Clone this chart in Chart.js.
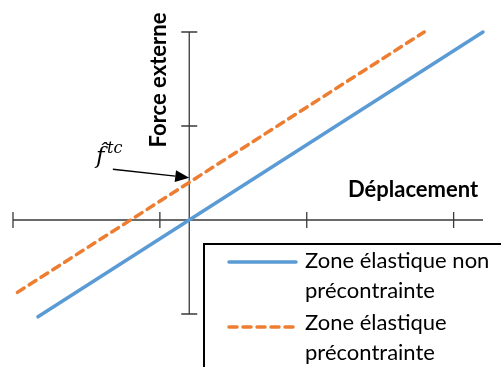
<!DOCTYPE html>
<html>
<head>
<meta charset="utf-8">
<script src="https://cdn.jsdelivr.net/npm/chart.js@4"></script>
<style>
  html, body { margin: 0; padding: 0; background: #fff; }
  #c { display: block; }
</style>
</head>
<body>
<canvas id="c" width="501" height="367"></canvas>
<script>
// values
const xTicks = [-1.2, -0.2, 0.8, 1.8];
const yTicks = [-1, 0, 1, 2];
const blueX = [-1.03, 2.0];
const blueY = [-1.03, 2.0];
const orangeX = [-1.17, 1.6];
const orangeY = [-0.77, 2.0];
const seriesLabels = [['Zone élastique non', 'précontrainte'], ['Zone élastique', 'précontrainte']];
const xTitle = 'Déplacement';
const yTitle = 'Force externe';
const noteMain = 'f\u0302';
const noteSup = 'tc';
const arrowFrom = [-0.52, 0.54];
const arrowTo = [0, 0.45];

const BLUE = '#5B9BD5';
const ORANGE = '#ED7D31';
const AXIS = '#3a3a3a';
const FONT = 'Lato, "Liberation Sans", sans-serif';

function pts(xs, ys) { return xs.map((x, i) => ({ x: x, y: ys[i] })); }

// axes crossing at origin with cross ticks, titles, note and legend
const axesPlugin = {
  id: 'axes',
  beforeDatasetsDraw(chart) {
    const ctx = chart.ctx, xs = chart.scales.x, ys = chart.scales.y;
    const x0 = xs.getPixelForValue(0), y0 = ys.getPixelForValue(0);
    ctx.save();
    ctx.strokeStyle = AXIS;
    ctx.lineWidth = 1.3;
    ctx.beginPath();
    ctx.moveTo(xs.getPixelForValue(xs.min), y0);
    ctx.lineTo(xs.getPixelForValue(xs.max), y0);
    ctx.moveTo(x0, ys.getPixelForValue(ys.min));
    ctx.lineTo(x0, ys.getPixelForValue(ys.max));
    xTicks.forEach(v => {
      const px = xs.getPixelForValue(v);
      ctx.moveTo(px, y0 - 8); ctx.lineTo(px, y0 + 8);
    });
    yTicks.forEach(v => {
      const py = ys.getPixelForValue(v);
      ctx.moveTo(x0 - 8, py); ctx.lineTo(x0 + 8, py);
    });
    ctx.stroke();
    ctx.restore();
  },
  afterDraw(chart) {
    const ctx = chart.ctx, xs = chart.scales.x, ys = chart.scales.y;
    ctx.save();
    // axis titles
    ctx.fillStyle = '#000';
    ctx.font = 'bold 22px ' + FONT;
    ctx.textAlign = 'left';
    ctx.textBaseline = 'alphabetic';
    ctx.fillText(xTitle, 348, 197);
    ctx.save();
    ctx.translate(166, 80);
    ctx.rotate(-Math.PI / 2);
    ctx.textAlign = 'center';
    ctx.fillText(yTitle, 0, 0);
    ctx.restore();

    // annotation arrow
    const ax = xs.getPixelForValue(arrowFrom[0]), ay = ys.getPixelForValue(arrowFrom[1]);
    const bx = xs.getPixelForValue(arrowTo[0]), by = ys.getPixelForValue(arrowTo[1]);
    const ang = Math.atan2(by - ay, bx - ax);
    const hl = 14, hw = 6;
    const sx = bx - hl * Math.cos(ang), sy = by - hl * Math.sin(ang);
    ctx.strokeStyle = '#000';
    ctx.lineWidth = 1.3;
    ctx.beginPath();
    ctx.moveTo(ax, ay); ctx.lineTo(sx, sy);
    ctx.stroke();
    ctx.beginPath();
    ctx.moveTo(bx, by);
    ctx.lineTo(sx + hw * Math.sin(ang), sy - hw * Math.cos(ang));
    ctx.lineTo(sx - hw * Math.sin(ang), sy + hw * Math.cos(ang));
    ctx.closePath();
    ctx.fillStyle = '#000';
    ctx.fill();

    ctx.font = 'italic 23px "DejaVu Serif", serif';
    ctx.textAlign = 'left';
    ctx.fillText(noteMain, 96, 163);
    ctx.font = 'italic 16px "DejaVu Serif", serif';
    ctx.fillText(noteSup, 107, 153);

    // legend box
    ctx.fillStyle = '#fff';
    ctx.fillRect(204, 244, 310, 140);
    ctx.strokeStyle = '#000';
    ctx.lineWidth = 2;
    ctx.strokeRect(204, 244, 310, 140);
    const rows = [262, 327];
    const baselines = [268, 330];
    chart.data.datasets.forEach((ds, i) => {
      ctx.strokeStyle = ds.borderColor;
      ctx.lineWidth = 3.5;
      ctx.lineCap = 'round';
      ctx.setLineDash(ds.borderDash || []);
      ctx.beginPath();
      ctx.moveTo(229, rows[i]); ctx.lineTo(296, rows[i]);
      ctx.stroke();
      ctx.setLineDash([]);
      ctx.fillStyle = '#000';
      ctx.font = '22px ' + FONT;
      ctx.textBaseline = 'alphabetic';
      seriesLabels[i].forEach((t, j) => ctx.fillText(t, 305, baselines[i] + j * 30));
    });
    ctx.restore();
  }
};

new Chart(document.getElementById('c'), {
  type: 'scatter',
  data: {
    datasets: [
      { label: seriesLabels[0].join(' '), data: pts(blueX, blueY), showLine: true,
        borderColor: BLUE, borderWidth: 3.5, pointRadius: 0, clip: false, borderCapStyle: 'round' },
      { label: seriesLabels[1].join(' '), data: pts(orangeX, orangeY), showLine: true,
        borderColor: ORANGE, borderWidth: 3.5, borderDash: [8, 6], borderCapStyle: 'round',
        pointRadius: 0, clip: false }
    ]
  },
  options: {
    responsive: false,
    animation: false,
    layout: { padding: { left: 13, right: 18, top: 32, bottom: 53 } },
    plugins: { legend: { display: false }, tooltip: { enabled: false } },
    scales: {
      x: { type: 'linear', min: -1.2, max: 2, display: false },
      y: { type: 'linear', min: -1, max: 2, display: false }
    }
  },
  plugins: [axesPlugin]
});
</script>
</body>
</html>
